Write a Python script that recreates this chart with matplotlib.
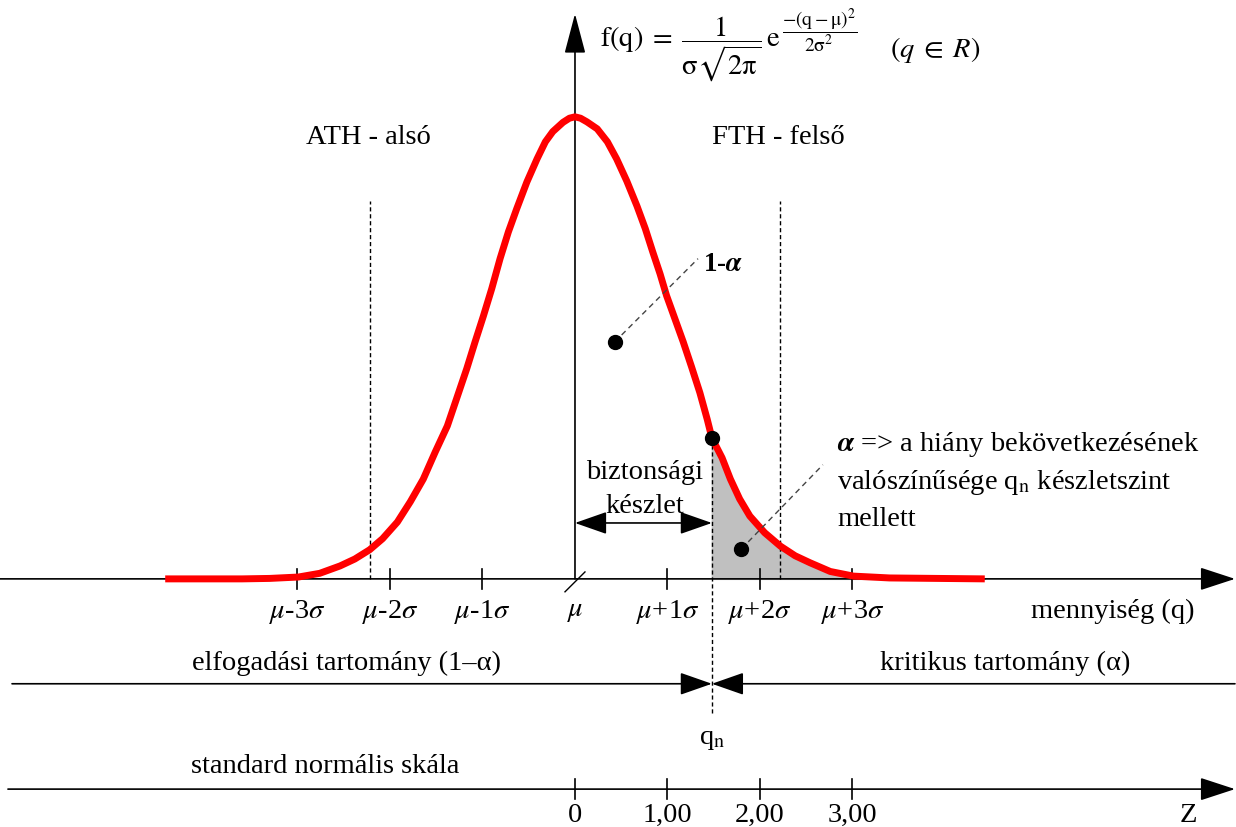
import matplotlib.pyplot as plt
import numpy as np

plt.rcParams['font.family'] = ['Liberation Serif', 'DejaVu Serif']
plt.rcParams['mathtext.fontset'] = 'stix'

# bell curve: x in sigma units, height relative to the peak
curve_z = [-4.43, -3.6, -3.3, -2.99, -2.76, -2.54, -2.38, -2.22, -2.08, -1.92,
           -1.78, -1.64, -1.51, -1.38, -1.28, -1.17, -1.08, -0.99, -0.90, -0.81,
           -0.72, -0.63, -0.52, -0.41, -0.32, -0.24, -0.13, -0.06, 0.0, 0.06, 0.13, 0.24,
           0.35, 0.45, 0.56, 0.67, 0.76, 0.84, 0.92, 0.99, 1.08, 1.17,
           1.26, 1.35, 1.43, 1.48, 1.59, 1.68, 1.78, 1.89, 2.05, 2.22,
           2.38, 2.54, 2.76, 3.01, 3.4, 4.43]
curve_h = [0.0, 0.0, 0.001, 0.004, 0.012, 0.028, 0.043, 0.063, 0.087, 0.123,
           0.167, 0.216, 0.275, 0.331, 0.390, 0.455, 0.513, 0.569, 0.628, 0.693,
           0.751, 0.801, 0.859, 0.909, 0.946, 0.968, 0.988, 0.997, 1.0, 0.997, 0.989, 0.974,
           0.946, 0.909, 0.861, 0.807, 0.758, 0.708, 0.660, 0.613, 0.563, 0.513,
           0.459, 0.403, 0.345, 0.305, 0.262, 0.216, 0.173, 0.136, 0.100, 0.071,
           0.050, 0.035, 0.016, 0.006, 0.002, 0.0]

qn = 1.48          # qn position (sigma units)
qn_h = 0.305       # curve height at qn
ath, fth = -2.22, 2.22

sigma_ticks = [-3, -2, -1, 0, 1, 2, 3]
sigma_labels = [r'$\mu$-3$\sigma$', r'$\mu$-2$\sigma$', r'$\mu$-1$\sigma$', r'$\mu$',
                r'$\mu$+1$\sigma$', r'$\mu$+2$\sigma$', r'$\mu$+3$\sigma$']
z_ticks = [0, 1, 2, 3]
z_labels = ['0', '1,00', '2,00', '3,00']

FS = 20.5

fig = plt.figure(figsize=(12.36, 8.28), dpi=100)
ax = fig.add_axes([0, 0, 1, 1])
ax.set_xlim(-6.216, 7.146)
ax.set_ylim(-0.537, 1.255)
ax.axis('off')

z = np.array(curve_z)
h = np.array(curve_h)

# shaded tail beyond qn
m = z >= qn
ax.fill_between(z[m], 0, h[m], color='#c0c0c0', zorder=1)

# dashed guides
ax.plot([ath, ath], [0, 0.818], color='black', lw=1, ls=(0, (3, 2)), zorder=2)
ax.plot([fth, fth], [0, 0.818], color='black', lw=1, ls=(0, (3, 2)), zorder=2)
ax.plot([qn, qn], [qn_h, -0.292], color='black', lw=1, ls=(0, (3, 2)), zorder=2)

# curve
ax.plot(z, h, color='#ff0000', lw=5, solid_joinstyle='round', solid_capstyle='butt', zorder=4)

def arrow(x0, y0, x1, y1, style, ms=20):
    ax.annotate('', xy=(x1, y1), xytext=(x0, y0),
                arrowprops=dict(arrowstyle=style, color='black', lw=1.2,
                                mutation_scale=ms, shrinkA=0, shrinkB=0), zorder=3)

# axes
arrow(-6.216, 0, 7.135, 0, '-|>,head_length=1.1,head_width=0.36')
arrow(0, 0, 0, 1.223, '-|>,head_length=1.25,head_width=0.33')
ax.plot([-0.108, 0.108], [-0.028, 0.015], color='black', lw=1)
for t, lab in zip(sigma_ticks, sigma_labels):
    if t != 0:
        ax.plot([t, t], [-0.022, 0.022], color='black', lw=1.2)
    ax.text(t, -0.069, lab, ha='center', va='center', fontsize=FS)
ax.text(5.816, -0.069, 'mennyiség (q)', ha='center', va='center', fontsize=FS)

# formula
ax.text(0.27, 1.147, r'$\mathrm{f(q)}\;=\;\dfrac{1}{\mathrm{\sigma}\sqrt{2\mathrm{\pi}}}\,\mathrm{e}$',
        ha='left', va='center', fontsize=FS)
ax.text(2.24, 1.188, r'$\dfrac{-(\mathrm{q}-\mathrm{\mu})^2}{2\mathrm{\sigma}^2}$',
        ha='left', va='center', fontsize=14)
ax.text(3.405, 1.147, r'$(q\;\in\;R)$', ha='left', va='center', fontsize=FS)

ax.text(-2.238, 0.957, 'ATH - alsó', ha='center', va='center', fontsize=FS)
ax.text(2.195, 0.957, 'FTH - felső', ha='center', va='center', fontsize=FS)

# 1-alpha label
ax.plot([0.43, 1.33], [0.513, 0.693], color='#444444', lw=1, ls=(0, (4, 3)), zorder=5)
ax.plot(0.43, 0.513, 'o', color='black', ms=10, zorder=6)
ax.text(1.38, 0.682, r'1-$\mathbfit{\alpha}$', ha='left', va='center', fontsize=FS - 1, fontweight='bold')

# qn point on curve
ax.plot(qn, qn_h, 'o', color='black', ms=10, zorder=6)

# alpha label
ax.plot([1.8, 2.68], [0.065, 0.247], color='#444444', lw=1, ls=(0, (4, 3)), zorder=5)
ax.plot(1.8, 0.065, 'o', color='black', ms=10, zorder=6)
ax.text(2.832, 0.292, r'$\mathbfit{\alpha}$ => a hiány bekövetkezésének', ha='left', va='center', fontsize=FS)
ax.text(2.832, 0.210, r'valószínűsége q$_{\mathrm{n}}$ készletszint', ha='left', va='center', fontsize=FS)
ax.text(2.832, 0.130, 'mellett', ha='left', va='center', fontsize=FS)

# safety stock
ax.text(0.757, 0.232, 'biztonsági', ha='center', va='center', fontsize=FS)
ax.text(0.757, 0.158, 'készlet', ha='center', va='center', fontsize=FS)
arrow(0, 0.121, qn, 0.121, '<|-|>,head_length=0.8,head_width=0.28', ms=25)

# acceptance / critical regions
ax.text(-2.465, -0.180, 'elfogadási tartomány (1–α)', ha='center', va='center', fontsize=FS)
ax.text(4.649, -0.180, 'kritikus tartomány (α)', ha='center', va='center', fontsize=FS)
arrow(-6.086, -0.227, qn, -0.227, '-|>,head_length=0.8,head_width=0.28', ms=25)
arrow(7.135, -0.227, qn, -0.227, '-|>,head_length=0.8,head_width=0.28', ms=25)
ax.text(qn, -0.346, r'q$_{\mathrm{n}}$', ha='center', va='center', fontsize=FS)

# standard normal scale
ax.text(-2.703, -0.403, 'standard normális skála', ha='center', va='center', fontsize=FS)
arrow(-6.13, -0.455, 7.135, -0.455, '-|>,head_length=1.1,head_width=0.36')
for t, lab in zip(z_ticks, z_labels):
    ax.plot([t, t], [-0.433, -0.477], color='black', lw=1.2)
    ax.text(t, -0.509, lab, ha='center', va='center', fontsize=FS)
ax.text(6.627, -0.509, 'Z', ha='center', va='center', fontsize=FS)

fig.savefig('out.png', dpi=100)
